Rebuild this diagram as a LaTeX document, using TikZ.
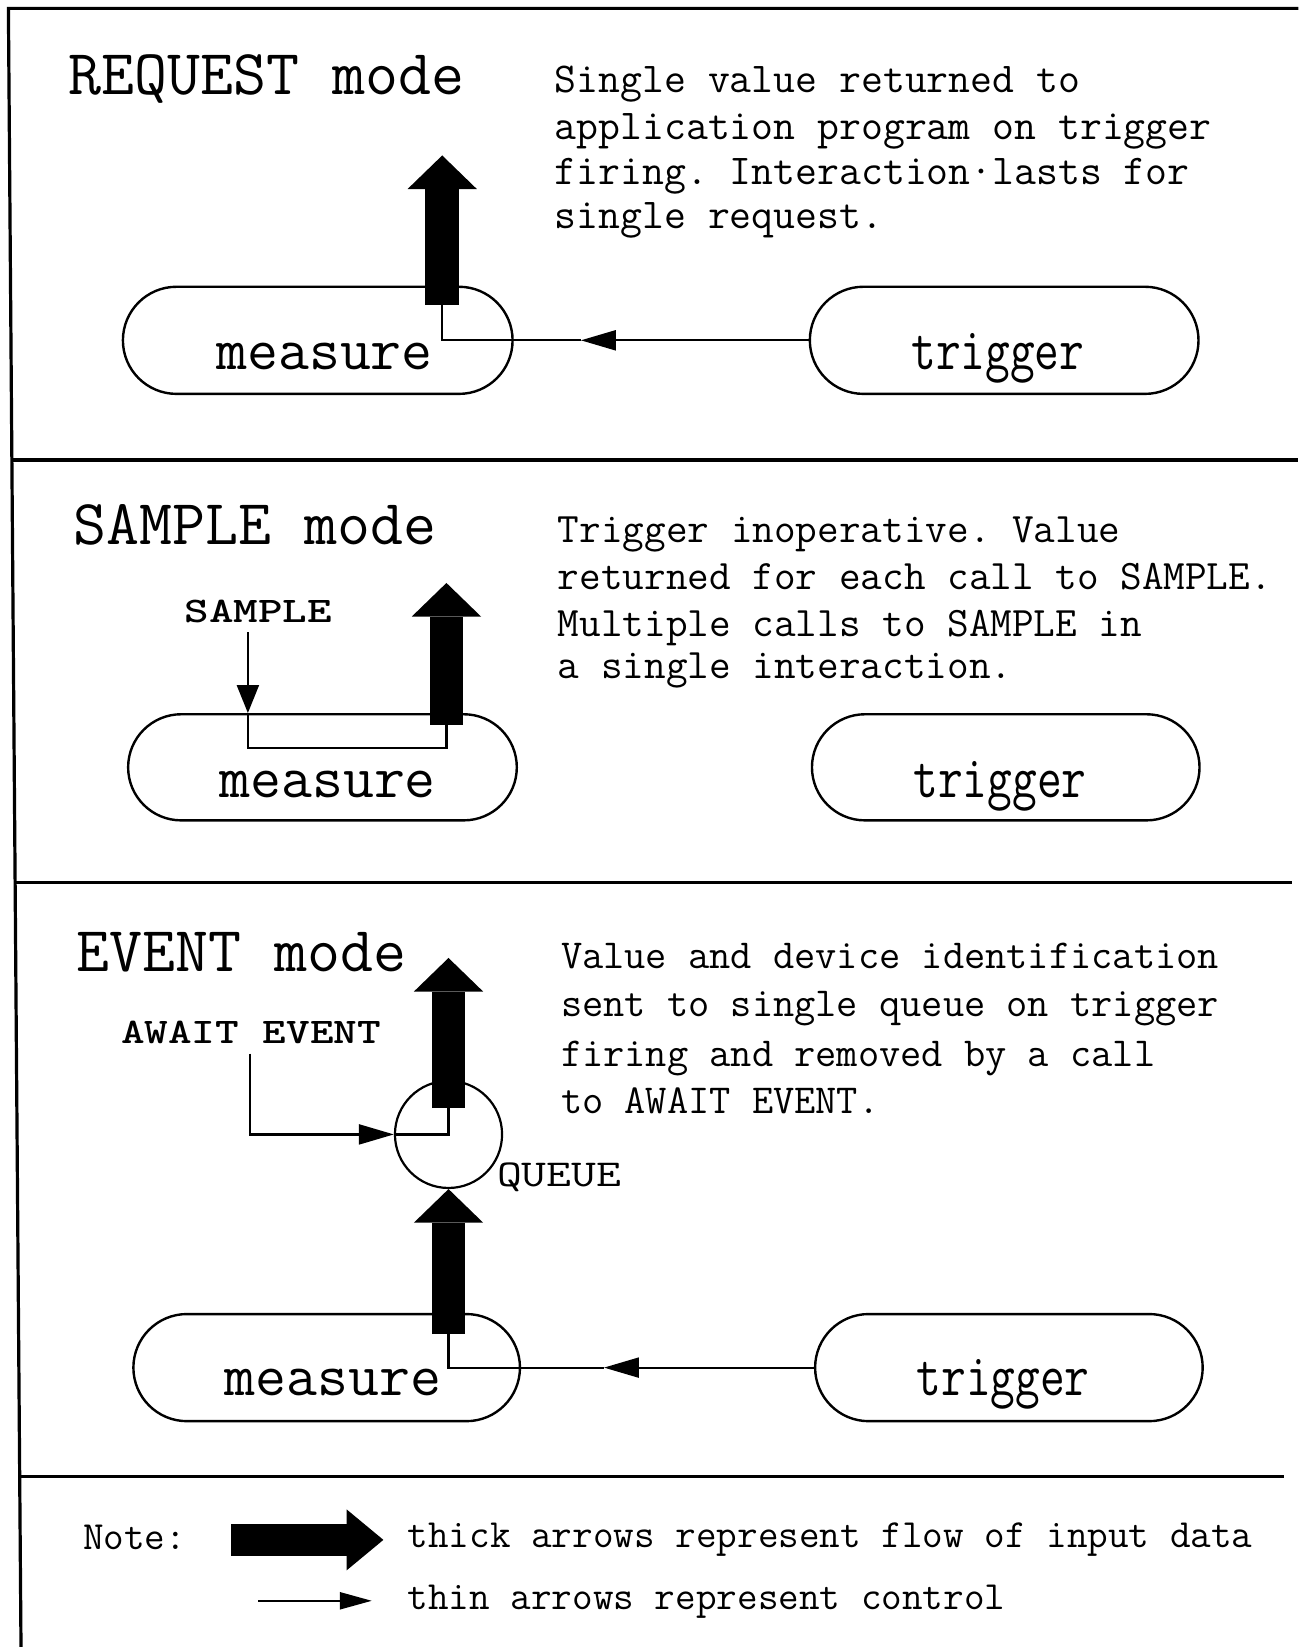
\documentclass[tikz,border=0pt]{standalone}
\usepackage{fontspec}
\usepackage{graphicx}
\usetikzlibrary{arrows.meta,shapes.misc}
\frenchspacing
\begin{document}
\begin{tikzpicture}[x=1.0502pt,y=-1.0502pt,
  frame/.style={line width=3.2pt},
  title/.style={anchor=base west,inner sep=0pt,font=\fontsize{64}{70}\selectfont\ttfamily},
  desc/.style={anchor=base west,inner sep=0pt,font=\fontsize{#1}{#1}\selectfont\ttfamily\frenchspacing},
  boxtext/.style={anchor=base,inner sep=0pt,font=\fontsize{60}{64}\selectfont\ttfamily},
  lab/.style={anchor=base,inner sep=0pt,font=\fontsize{36}{40}\selectfont\ttfamily\bfseries},
  qlab/.style={anchor=base west,inner sep=0pt,font=\fontsize{38}{40}\selectfont\ttfamily},
  pill/.style={rounded rectangle,draw,line width=2.4pt,inner sep=0pt},
  queue/.style={circle,draw,line width=2.2pt,inner sep=0pt,minimum size=107.1pt},
  ctrl/.style={line width=2.2pt},
  ctrltip/.style={-{Triangle[length=35pt,width=20pt]}},
  data/.style={line width=33.6pt,-{Triangle[width=69.3pt,length=33.6pt,line width=0pt]}},
  legdata/.style={line width=32.6pt,-{Triangle[width=61pt,length=36.8pt,line width=0pt]}}
]
\useasboundingbox (0,0) rectangle (1236,1568);

% ---------- frame ----------
\coordinate (tl) at (8,8);
\coordinate (tr) at (1236,8);
\coordinate (bl) at (20,1568);
\draw[frame] (tr) -- (tl) -- (bl);
\coordinate (d1l) at (10,438);  \coordinate (d1r) at (1236,438);
\coordinate (d2l) at (14,840);  \coordinate (d2r) at (1230,840);
\coordinate (d3l) at (18,1406); \coordinate (d3r) at (1222,1406);
\draw[frame] (d1l) -- (d1r);
\draw[frame] (d2l) -- (d2r);
\draw[frame] (d3l) -- (d3r);

% ---------- REQUEST ----------
\node[title] (h1) at (65,90) {REQUEST mode};
\node[desc=42.5] (s1a) at (528,88) {Single value returned to};
\node[desc=42.5] (s1b) at (528,133) {application program on trigger};
\node[desc=42.5] (s1c) at (528,176) {firing. Interaction·lasts for};
\node[desc=42.5] (s1d) at (528,218) {single request.};

\node[pill,minimum width=389.6pt,minimum height=107.1pt] (m1) at (302.5,324) {};
\node[boxtext] (m1t) at (309,352) {measure};
\node[pill,minimum width=388.6pt,minimum height=107.1pt] (t1) at (956,324) {};
\node[boxtext] (t1t) at (950,352) {\scalebox{0.8}[1]{trigger}};

\coordinate (a1b) at (421,290);
\coordinate (a1t) at (421,148);
\draw[data] (a1b) -- (a1t);
\coordinate (c1m) at (553,324);
\draw[ctrl,ctrltip] (t1.west) -- (c1m);
\draw[ctrl] (c1m) -- (a1b |- c1m) -- (a1b);

% ---------- SAMPLE ----------
\node[title] (h2) at (70,518) {SAMPLE mode};
\node[desc=42] (s2a) at (531,516) {Trigger inoperative. Value};
\node[desc=42] (s2b) at (531,561) {returned for each call to SAMPLE.};
\node[desc=42] (s2c) at (531,606) {Multiple calls to SAMPLE in};
\node[desc=42] (s2d) at (531,646) {a single interaction.};

\node[pill,minimum width=388.6pt,minimum height=106.1pt] (m2) at (307,730.5) {};
\node[boxtext] (m2t) at (312,759) {measure};
\node[pill,minimum width=387.5pt,minimum height=106.1pt] (t2) at (957.5,730.5) {};
\node[boxtext] (t2t) at (952,759) {\scalebox{0.8}[1]{trigger}};

\node[lab] (smp) at (246,593) {\scalebox{1.3}[1]{SAMPLE}};
\coordinate (a2b) at (425,690);
\coordinate (a2t) at (425,555);
\draw[data] (a2b) -- (a2t);
\coordinate (c2top) at (236,602);
\coordinate (c2c) at (236,712);
\draw[ctrl,-{Triangle[length=28pt,width=22pt]}] (c2top) -- (c2top |- m2.north);
\draw[ctrl] (c2top |- m2.north) -- (c2c) -- (a2b |- c2c) -- (a2b);

% ---------- EVENT ----------
\node[title] (h3) at (73,925) {EVENT mode};
\node[desc=41.2] (s3a) at (534,922) {Value and device identification};
\node[desc=41.2] (s3b) at (534,968) {sent to single queue on trigger};
\node[desc=41.2] (s3c) at (534,1015) {firing and removed by a call};
\node[desc=41.2] (s3d) at (534,1060) {to AWAIT EVENT.};

\node[lab] (aw) at (239,993) {\scalebox{1.25}[1]{AWAIT EVENT}};
\node[queue] (q) at (427,1080) {};
\node[qlab] (ql) at (473,1130) {\scalebox{1.27}[1]{QUEUE}};

\coordinate (a3b) at (427,1055);
\coordinate (a3t) at (427,912);
\draw[data] (a3b) -- (a3t);
\coordinate (c3top) at (238,1003);
\draw[ctrl,ctrltip] (c3top) -- (c3top |- q.west) -- (q.west);
\draw[ctrl] (q.west) -- (a3b |- q.west) -- (a3b);

\node[pill,minimum width=386.5pt,minimum height=107.1pt] (m3) at (311,1302) {};
\node[boxtext] (m3t) at (317,1329) {measure};
\node[pill,minimum width=387.5pt,minimum height=107.1pt] (t3) at (960.5,1302) {};
\node[boxtext] (t3t) at (955,1329) {\scalebox{0.8}[1]{trigger}};

\coordinate (a4b) at (427,1270);
\draw[data] (a4b) -- (q.south);
\coordinate (c4m) at (575,1302);
\draw[ctrl,ctrltip] (t3.west) -- (c4m);
\draw[ctrl] (c4m) -- (a4b |- c4m) -- (a4b);

% ---------- legend ----------
\node[desc=40] (note) at (79,1475) {Note:};
\coordinate (l1a) at (220,1466);
\coordinate (l1b) at (365,1466);
\draw[legdata] (l1a) -- (l1b);
\node[desc=40] (lt1) at (388,1473) {thick arrows represent flow of input data};
\coordinate (l2a) at (246,1524);
\coordinate (l2b) at (354,1524);
\draw[ctrl,-{Triangle[length=32pt,width=17pt]}] (l2a) -- (l2b);
\node[desc=40] (lt2) at (388,1532) {thin arrows represent control};
\end{tikzpicture}
\end{document}
